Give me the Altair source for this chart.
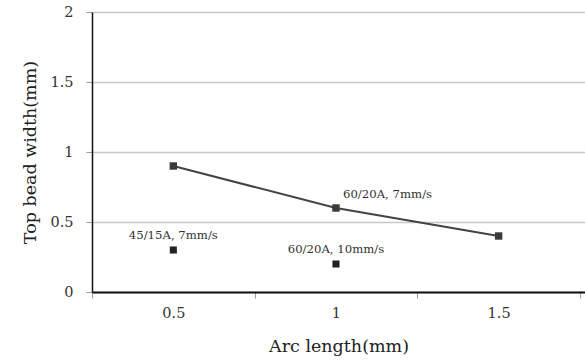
import altair as alt
import pandas as pd

# Main series (60/20A, 7mm/s)
arc_line = [0.5, 1.0, 1.5]
width_line = [0.9, 0.6, 0.4]

# Single points
arc_pts = [0.5, 1.0]
width_pts = [0.3, 0.2]

# Annotation labels
label_text = ["45/15A, 7mm/s", "60/20A, 10mm/s", "60/20A, 7mm/s"]
label_x = [0.5, 1.0, 1.0]
label_y = [0.3, 0.2, 0.6]
label_kind = ["c", "c", "l"]

FONT = "DejaVu Serif"

df_line = pd.DataFrame({"x": arc_line, "y": width_line})
df_pts = pd.DataFrame({"x": arc_pts, "y": width_pts})
df_lab = pd.DataFrame({"x": label_x, "y": label_y, "t": label_text, "k": label_kind})

xscale = alt.Scale(domain=[0.25, 1.7655], nice=False, zero=False)
yscale = alt.Scale(domain=[0, 2], nice=False)

xaxis = alt.Axis(
    title="Arc length(mm)",
    values=[0.25, 0.5, 0.75, 1.0, 1.25, 1.5, 1.75],
    format="~g",
    labelExpr="(datum.value == 0.5 || datum.value == 1 || datum.value == 1.5) ? datum.label : ''",
    tickOpacity={"condition": {"test": "datum.value == 0.5 || datum.value == 1 || datum.value == 1.5", "value": 0}, "value": 1},
    grid=False,
    domainColor="#111111",
    domainWidth=2,
    tickColor="#999999",
    tickSize=6,
    labelFont=FONT,
    labelFontSize=14.5,
    labelColor="#333333",
    labelPadding=8,
    titleFont=FONT,
    titleFontSize=17.5,
    titleFontWeight="normal",
    titleColor="#222222",
    titlePadding=18,
)

yaxis = alt.Axis(
    title="Top bead width(mm)",
    values=[0, 0.5, 1, 1.5, 2],
    format="~g",
    grid=True,
    gridColor="#c8c8c8",
    gridWidth=1.5,
    domainColor="#111111",
    domainWidth=1.5,
    tickColor="#999999",
    tickSize=6,
    labelFont=FONT,
    labelFontSize=14.5,
    labelColor="#333333",
    labelPadding=13,
    titleFont=FONT,
    titleFontSize=17.5,
    titleFontWeight="normal",
    titleColor="#222222",
    titlePadding=10,
)

line = alt.Chart(df_line).mark_line(color="#444444", strokeWidth=2).encode(
    x=alt.X("x:Q", scale=xscale, axis=xaxis),
    y=alt.Y("y:Q", scale=yscale, axis=yaxis),
)
line_pts = alt.Chart(df_line).mark_point(shape="square", filled=True, color="#3a3a3a", size=55, opacity=1).encode(
    x=alt.X("x:Q", scale=xscale), y=alt.Y("y:Q", scale=yscale)
)
pts = alt.Chart(df_pts).mark_point(shape="square", filled=True, color="#222222", size=50, opacity=1).encode(
    x=alt.X("x:Q", scale=xscale), y=alt.Y("y:Q", scale=yscale)
)
lab_c = alt.Chart(df_lab).transform_filter("datum.k == 'c'").mark_text(
    font=FONT, fontSize=11.7, color="#333333", align="center", baseline="middle", dy=-15
).encode(x=alt.X("x:Q", scale=xscale), y=alt.Y("y:Q", scale=yscale), text="t:N")
lab_l = alt.Chart(df_lab).transform_filter("datum.k == 'l'").mark_text(
    font=FONT, fontSize=11.7, color="#333333", align="left", baseline="middle", dx=7, dy=-14
).encode(x=alt.X("x:Q", scale=xscale), y=alt.Y("y:Q", scale=yscale), text="t:N")

chart = (
    alt.layer(line, line_pts, pts, lab_c, lab_l)
    .properties(
        width=493,
        height=280,
        autosize=alt.AutoSizeParams(type="none"),
        padding={"left": 92, "top": 12, "right": 0, "bottom": 68},
    )
    .configure_view(stroke=None)
    .configure(background="white")
)

chart.save("out.html", embed_options={"renderer": "svg", "actions": False})
